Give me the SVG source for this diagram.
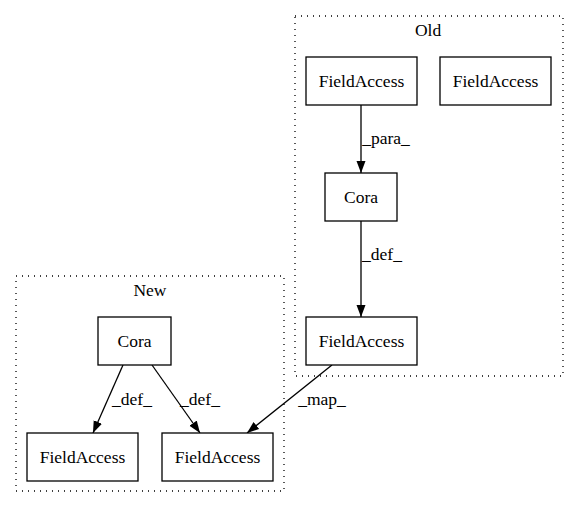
<svg xmlns="http://www.w3.org/2000/svg" width="579" height="508" viewBox="0 0 579 508">
<style>
.cl{fill:none;stroke:#000;stroke-dasharray:1,5;stroke-width:1.3}
.nd{fill:#fff;stroke:#000;stroke-width:1.3}
.t{font-family:"Liberation Serif","Times New Roman",serif;font-size:17.5px;text-anchor:middle;fill:#000}
.e{fill:none;stroke:#000;stroke-width:1.3}
</style>
<defs>
<marker id="ah" markerWidth="12" markerHeight="10" refX="12" refY="4.5" orient="auto" markerUnits="userSpaceOnUse" viewBox="0 0 12 9">
<path d="M0,0 L12,4.5 L0,9 Z" fill="#000"/>
</marker>
</defs>
<rect width="579" height="508" fill="#fff"/>
<g id="cluster_old">
<rect class="cl" x="295" y="16" width="268" height="360"/>
<text class="t" x="428" y="36">Old</text>
</g>
<g id="cluster_new">
<rect class="cl" x="16" y="276" width="268" height="215"/>
<text class="t" x="150" y="296">New</text>
</g>
<g id="connectors">
<path class="e" d="M361,105 L361,173" marker-end="url(#ah)"/>
<text class="t" x="386" y="144">_para_</text>
<path class="e" d="M361,221 L361,317" marker-end="url(#ah)"/>
<text class="t" x="382" y="260">_def_</text>
<path class="e" d="M123,365 L93,433" marker-end="url(#ah)"/>
<text class="t" x="132" y="405">_def_</text>
<path class="e" d="M152,365 L200,433" marker-end="url(#ah)"/>
<text class="t" x="200" y="405">_def_</text>
<path class="e" d="M332,365 L247,433" marker-end="url(#ah)"/>
<text class="t" x="322" y="405">_map_</text>
</g>
<g id="old_fa1">
<rect class="nd" x="306" y="57" width="111" height="48"/>
<text class="t" x="361.5" y="87">FieldAccess</text>
</g>
<g id="old_fa2">
<rect class="nd" x="440" y="57" width="111" height="48"/>
<text class="t" x="495.5" y="87">FieldAccess</text>
</g>
<g id="old_cora">
<rect class="nd" x="325" y="173" width="72" height="48"/>
<text class="t" x="361" y="203">Cora</text>
</g>
<g id="old_fa3">
<rect class="nd" x="306" y="317" width="111" height="48"/>
<text class="t" x="361.5" y="347">FieldAccess</text>
</g>
<g id="new_cora">
<rect class="nd" x="98" y="317" width="73" height="48"/>
<text class="t" x="134.5" y="347">Cora</text>
</g>
<g id="new_fa1">
<rect class="nd" x="27" y="433" width="111" height="48"/>
<text class="t" x="82.5" y="463">FieldAccess</text>
</g>
<g id="new_fa2">
<rect class="nd" x="162" y="433" width="111" height="48"/>
<text class="t" x="217.5" y="463">FieldAccess</text>
</g>
</svg>
